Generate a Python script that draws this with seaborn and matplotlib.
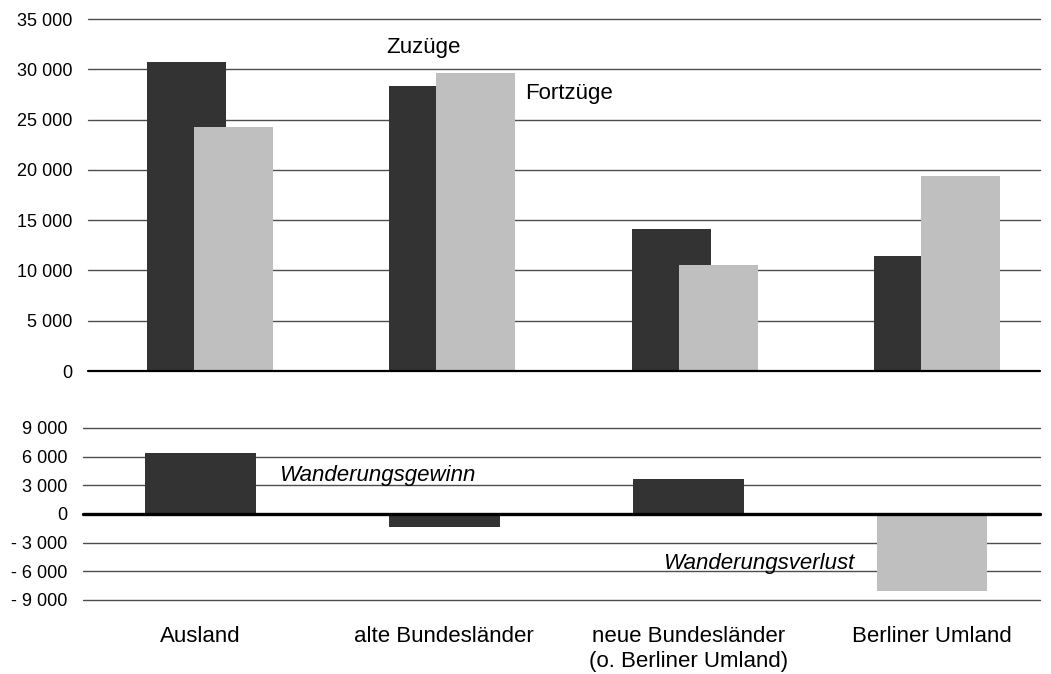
import matplotlib
matplotlib.use("Agg")
import matplotlib.pyplot as plt
import numpy as np
import seaborn as sns

"""
Zuzuege / Fortzuege nach Herkunft bzw. Ziel, darunter der Wanderungssaldo.
"""

regionen = ["Ausland", "alte Bundesländer", "neue Bundesländer\n(o. Berliner Umland)", "Berliner Umland"]
zuzuege = [30700, 28300, 14100, 11400]
fortzuege = [24300, 29600, 10500, 19400]
saldo = [6400, -1350, 3650, -8050]
saldo_farben = ["#333333", "#333333", "#333333", "#bfbfbf"]

top_ticks = [0, 5000, 10000, 15000, 20000, 25000, 30000, 35000]
bottom_ticks = [-9000, -6000, -3000, 0, 3000, 6000, 9000]

sns.set_style("white")
plt.rcParams["font.family"] = ["Liberation Sans", "DejaVu Sans"]
plt.rcParams["text.color"] = "black"
plt.rcParams["xtick.color"] = "black"
plt.rcParams["ytick.color"] = "black"

dark = "#333333"
light = "#bfbfbf"
grid = "#4d4d4d"


def fmt(v):
    s = f"{abs(v):,}".replace(",", " ")
    return "- " + s if v < 0 else s


fig = plt.figure(figsize=(10.51, 6.74), dpi=100)
ax = fig.add_axes([88 / 1051, 303 / 674, 952 / 1051, 352 / 674])
ax2 = fig.add_axes([83 / 1051, 74 / 674, 957 / 1051, 172 / 674])

# oberes Panel: Zuzuege (dunkel) hinter Fortzuegen (hell), ueberlappend
idx = np.arange(len(regionen))
for t in top_ticks[1:]:
    ax.axhline(t, color=grid, lw=1, zorder=0, clip_on=False)
sns.barplot(x=idx - 0.097, y=zuzuege, native_scale=True, width=0.326, color=dark,
            saturation=1, errorbar=None, linewidth=0, ax=ax, zorder=2)
sns.barplot(x=idx + 0.097, y=fortzuege, native_scale=True, width=0.326, color=light,
            saturation=1, errorbar=None, linewidth=0, ax=ax, zorder=3)
ax.axhline(0, color="black", lw=1.6, zorder=4, clip_on=False)
ax.set_ylim(0, 35000)
ax.set_xlim(-0.503, 3.425)
ax.set_yticks(top_ticks)
ax.set_yticklabels([fmt(t) for t in top_ticks], fontsize=13)
ax.set_xticks([])
ax.tick_params(axis="y", length=0, pad=11)
ax.set_xlabel("")
ax.set_ylabel("")
sns.despine(ax=ax, left=True, bottom=True)
ax.text(0.726, 32200, "Zuzüge", fontsize=16, ha="left", va="center")
ax.text(1.30, 27600, "Fortzüge", fontsize=16, ha="left", va="center")

# unteres Panel: Saldo
for t in bottom_ticks:
    if t != 0:
        ax2.axhline(t, color=grid, lw=1, zorder=0, clip_on=False)
sns.barplot(x=regionen, y=saldo, hue=regionen, palette=saldo_farben, legend=False,
            width=0.455, saturation=1, errorbar=None, linewidth=0, ax=ax2, zorder=2)
ax2.axhline(0, color="black", lw=2.4, zorder=4, clip_on=False)
ax2.set_ylim(-9000, 9000)
ax2.set_xlim(-0.482, 3.443)
ax2.set_yticks(bottom_ticks)
ax2.set_yticklabels([fmt(t) for t in bottom_ticks], fontsize=13)
ax2.set_xticks(range(len(regionen)))
ax2.set_xticklabels(regionen, fontsize=16)
ax2.tick_params(axis="y", length=0, pad=11)
ax2.tick_params(axis="x", length=0, pad=19)
ax2.set_xlabel("")
ax2.set_ylabel("")
sns.despine(ax=ax2, left=True, bottom=True)
ax2.text(0.322, 3980, "Wanderungsgewinn", fontsize=16, style="italic", ha="left", va="center")
ax2.text(1.897, -5130, "Wanderungsverlust", fontsize=16, style="italic", ha="left", va="center")

plt.savefig("out.png", dpi=100)
